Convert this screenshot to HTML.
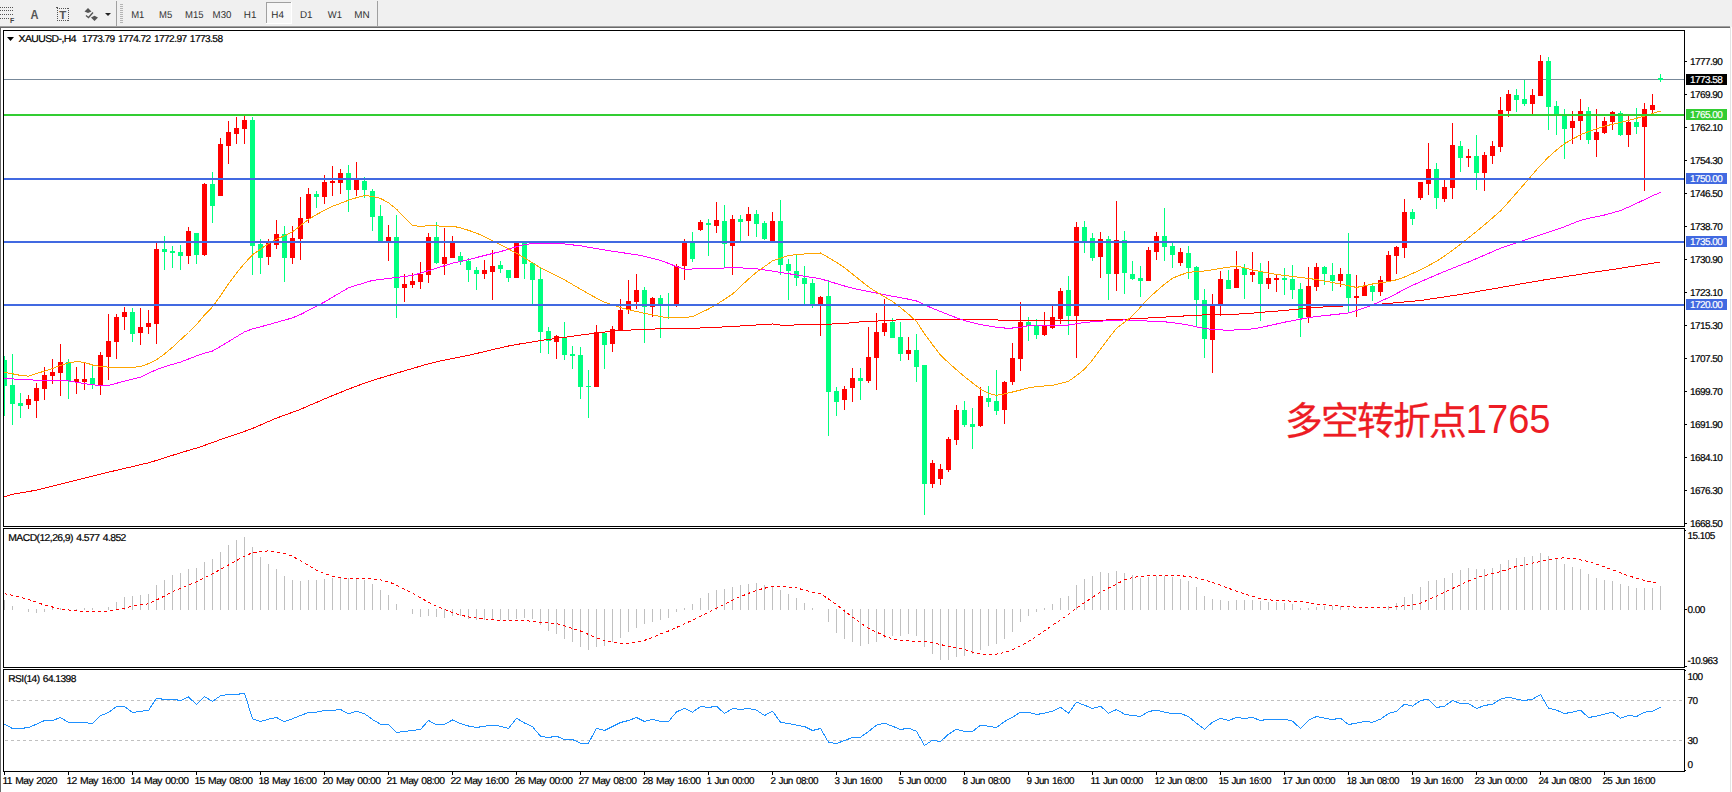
<!DOCTYPE html>
<html><head><meta charset="utf-8"><title>XAUUSD H4</title>
<style>
html,body{margin:0;padding:0;background:#fff;}
body{width:1732px;height:792px;overflow:hidden;position:relative;}
svg{position:absolute;left:0;top:0;display:block;}
text{font-family:"Liberation Sans",sans-serif;}
.ax{font-size:10px;fill:#000;stroke:#000;stroke-width:0.2px;letter-spacing:-0.55px;word-spacing:1px;text-rendering:geometricPrecision;}
.tb{font-size:10px;fill:#303030;text-rendering:geometricPrecision;}
.cn{font-family:"Noto Sans CJK SC","Liberation Sans",sans-serif;font-size:37.8px;letter-spacing:-1.8px;fill:#ed1c24;stroke:#ed1c24;stroke-width:0.3px;}
.cd{font-family:"Liberation Sans",sans-serif;font-size:40px;fill:#ed1c24;}
</style></head><body>
<svg width="1732" height="792" viewBox="0 0 1732 792">
<rect x="0" y="0" width="1732" height="792" fill="#ffffff"/>
<rect x="0" y="0" width="1732" height="26" fill="#f0f0f0"/>
<g shape-rendering="crispEdges">
<rect x="0" y="26" width="1730" height="1" fill="#a0a0a0"/>
<rect x="0" y="27" width="1730" height="1" fill="#696969"/>
<rect x="0" y="27" width="1" height="765" fill="#696969"/>
<rect x="1730" y="27" width="1" height="765" fill="#e3e3e3"/>
<rect x="1730" y="0" width="2" height="27" fill="#f0f0f0"/>
<rect x="116" y="1" width="1" height="25" fill="#a0a0a0"/>
<rect x="377" y="1" width="1" height="25" fill="#a0a0a0"/>
<rect x="120" y="4" width="3" height="1" fill="#b4b4b4"/>
<rect x="120" y="6" width="3" height="1" fill="#b4b4b4"/>
<rect x="120" y="8" width="3" height="1" fill="#b4b4b4"/>
<rect x="120" y="10" width="3" height="1" fill="#b4b4b4"/>
<rect x="120" y="12" width="3" height="1" fill="#b4b4b4"/>
<rect x="120" y="14" width="3" height="1" fill="#b4b4b4"/>
<rect x="120" y="16" width="3" height="1" fill="#b4b4b4"/>
<rect x="120" y="18" width="3" height="1" fill="#b4b4b4"/>
<rect x="120" y="20" width="3" height="1" fill="#b4b4b4"/>
<rect x="120" y="22" width="3" height="1" fill="#b4b4b4"/>
<rect x="0" y="7" width="1" height="1" fill="#555"/>
<rect x="2" y="7" width="1" height="1" fill="#555"/>
<rect x="4" y="7" width="1" height="1" fill="#555"/>
<rect x="6" y="7" width="1" height="1" fill="#555"/>
<rect x="8" y="7" width="1" height="1" fill="#555"/>
<rect x="10" y="7" width="1" height="1" fill="#555"/>
<rect x="12" y="7" width="1" height="1" fill="#555"/>
<rect x="0" y="10" width="1" height="1" fill="#555"/>
<rect x="2" y="10" width="1" height="1" fill="#555"/>
<rect x="4" y="10" width="1" height="1" fill="#555"/>
<rect x="6" y="10" width="1" height="1" fill="#555"/>
<rect x="8" y="10" width="1" height="1" fill="#555"/>
<rect x="10" y="10" width="1" height="1" fill="#555"/>
<rect x="12" y="10" width="1" height="1" fill="#555"/>
<rect x="0" y="14" width="1" height="1" fill="#555"/>
<rect x="2" y="14" width="1" height="1" fill="#555"/>
<rect x="4" y="14" width="1" height="1" fill="#555"/>
<rect x="6" y="14" width="1" height="1" fill="#555"/>
<rect x="8" y="14" width="1" height="1" fill="#555"/>
<rect x="10" y="14" width="1" height="1" fill="#555"/>
<rect x="12" y="14" width="1" height="1" fill="#555"/>
<rect x="0" y="18" width="1" height="1" fill="#555"/>
<rect x="2" y="18" width="1" height="1" fill="#555"/>
<rect x="4" y="18" width="1" height="1" fill="#555"/>
<rect x="6" y="18" width="1" height="1" fill="#555"/>
<rect x="8" y="18" width="1" height="1" fill="#555"/>
<rect x="57" y="8" width="1" height="1" fill="#555"/>
<rect x="57" y="20" width="1" height="1" fill="#555"/>
<rect x="59" y="8" width="1" height="1" fill="#555"/>
<rect x="59" y="20" width="1" height="1" fill="#555"/>
<rect x="61" y="8" width="1" height="1" fill="#555"/>
<rect x="61" y="20" width="1" height="1" fill="#555"/>
<rect x="63" y="8" width="1" height="1" fill="#555"/>
<rect x="63" y="20" width="1" height="1" fill="#555"/>
<rect x="65" y="8" width="1" height="1" fill="#555"/>
<rect x="65" y="20" width="1" height="1" fill="#555"/>
<rect x="67" y="8" width="1" height="1" fill="#555"/>
<rect x="67" y="20" width="1" height="1" fill="#555"/>
<rect x="57" y="8" width="1" height="1" fill="#555"/>
<rect x="68" y="8" width="1" height="1" fill="#555"/>
<rect x="57" y="10" width="1" height="1" fill="#555"/>
<rect x="68" y="10" width="1" height="1" fill="#555"/>
<rect x="57" y="12" width="1" height="1" fill="#555"/>
<rect x="68" y="12" width="1" height="1" fill="#555"/>
<rect x="57" y="14" width="1" height="1" fill="#555"/>
<rect x="68" y="14" width="1" height="1" fill="#555"/>
<rect x="57" y="16" width="1" height="1" fill="#555"/>
<rect x="68" y="16" width="1" height="1" fill="#555"/>
<rect x="57" y="18" width="1" height="1" fill="#555"/>
<rect x="68" y="18" width="1" height="1" fill="#555"/>
<rect x="57" y="20" width="1" height="1" fill="#555"/>
<rect x="68" y="20" width="1" height="1" fill="#555"/>
<rect x="56" y="7" width="2" height="1" fill="#555"/>
<rect x="266" y="2" width="26" height="22" fill="#f7f7f7"/>
<rect x="266" y="2" width="26" height="1" fill="#a0a0a0"/>
<rect x="266" y="2" width="1" height="22" fill="#a0a0a0"/>
<rect x="291" y="2" width="1" height="22" fill="#ffffff"/>
<rect x="266" y="23" width="26" height="1" fill="#ffffff"/>
</g>
<text x="10" y="23" style="font-size:7px;font-weight:bold;fill:#444">F</text>
<text x="30.6" y="19" textLength="8" lengthAdjust="spacingAndGlyphs" style="font-size:12px;font-weight:bold;fill:#555">A</text>
<text x="59.3" y="19" style="font-size:11.5px;font-weight:bold;fill:#555">T</text>
<path d="M88 8 L91.5 11.5 L84.5 11.5 Z M84.5 11.5 h7 l-3.5 1.5 Z" fill="#555"/>
<path d="M94.5 21 L98 17.5 L91 17.5 Z M91 17.500 l3.5 -1.8 l3.5 1.8 Z" fill="#555"/>
<path d="M86 15.500 L88.500 17.500 L93 12.500" fill="none" stroke="#555" stroke-width="1.3"/>
<path d="M105 13 h6 l-3 3 Z" fill="#222"/>
<text class="tb" x="131.2" y="18" textLength="13.2" lengthAdjust="spacingAndGlyphs">M1</text>
<text class="tb" x="159.0" y="18" textLength="13.2" lengthAdjust="spacingAndGlyphs">M5</text>
<text class="tb" x="185.0" y="18" textLength="18.5" lengthAdjust="spacingAndGlyphs">M15</text>
<text class="tb" x="212.6" y="18" textLength="18.8" lengthAdjust="spacingAndGlyphs">M30</text>
<text class="tb" x="243.8" y="18" textLength="12.6" lengthAdjust="spacingAndGlyphs">H1</text>
<text class="tb" x="271.3" y="18" textLength="12.6" lengthAdjust="spacingAndGlyphs">H4</text>
<text class="tb" x="300.0" y="18" textLength="12.6" lengthAdjust="spacingAndGlyphs">D1</text>
<text class="tb" x="327.8" y="18" textLength="14.2" lengthAdjust="spacingAndGlyphs">W1</text>
<text class="tb" x="354.3" y="18" textLength="15.4" lengthAdjust="spacingAndGlyphs">MN</text>
<g shape-rendering="crispEdges" fill="#000">
<rect x="3" y="30" width="1682" height="1"/>
<rect x="3" y="526" width="1682" height="1"/>
<rect x="3" y="30" width="1" height="497"/>
<rect x="1684" y="30" width="1" height="497"/>
<rect x="3" y="528" width="1682" height="1"/>
<rect x="3" y="667" width="1682" height="1"/>
<rect x="3" y="528" width="1" height="140"/>
<rect x="1684" y="528" width="1" height="140"/>
<rect x="3" y="669" width="1682" height="1"/>
<rect x="3" y="771" width="1682" height="1"/>
<rect x="3" y="669" width="1" height="103"/>
<rect x="1684" y="669" width="1" height="103"/>
<rect x="1685" y="61" width="2" height="1"/>
<rect x="1685" y="94" width="2" height="1"/>
<rect x="1685" y="127" width="2" height="1"/>
<rect x="1685" y="160" width="2" height="1"/>
<rect x="1685" y="193" width="2" height="1"/>
<rect x="1685" y="226" width="2" height="1"/>
<rect x="1685" y="259" width="2" height="1"/>
<rect x="1685" y="292" width="2" height="1"/>
<rect x="1685" y="325" width="2" height="1"/>
<rect x="1685" y="358" width="2" height="1"/>
<rect x="1685" y="391" width="2" height="1"/>
<rect x="1685" y="424" width="2" height="1"/>
<rect x="1685" y="457" width="2" height="1"/>
<rect x="1685" y="490" width="2" height="1"/>
<rect x="1685" y="523" width="2" height="1"/>
<rect x="1685" y="530" width="1" height="1"/>
<rect x="1685" y="609" width="2" height="1"/>
<rect x="1685" y="666" width="2" height="1"/>
<rect x="1685" y="670" width="1" height="1"/>
<rect x="1685" y="770" width="1" height="1"/>
<rect x="4" y="772" width="1" height="3"/>
<rect x="68" y="772" width="1" height="3"/>
<rect x="132" y="772" width="1" height="3"/>
<rect x="196" y="772" width="1" height="3"/>
<rect x="260" y="772" width="1" height="3"/>
<rect x="324" y="772" width="1" height="3"/>
<rect x="388" y="772" width="1" height="3"/>
<rect x="452" y="772" width="1" height="3"/>
<rect x="516" y="772" width="1" height="3"/>
<rect x="580" y="772" width="1" height="3"/>
<rect x="644" y="772" width="1" height="3"/>
<rect x="708" y="772" width="1" height="3"/>
<rect x="772" y="772" width="1" height="3"/>
<rect x="836" y="772" width="1" height="3"/>
<rect x="900" y="772" width="1" height="3"/>
<rect x="964" y="772" width="1" height="3"/>
<rect x="1028" y="772" width="1" height="3"/>
<rect x="1092" y="772" width="1" height="3"/>
<rect x="1156" y="772" width="1" height="3"/>
<rect x="1220" y="772" width="1" height="3"/>
<rect x="1284" y="772" width="1" height="3"/>
<rect x="1348" y="772" width="1" height="3"/>
<rect x="1412" y="772" width="1" height="3"/>
<rect x="1476" y="772" width="1" height="3"/>
<rect x="1540" y="772" width="1" height="3"/>
<rect x="1604" y="772" width="1" height="3"/>
</g>
<g shape-rendering="crispEdges">
<rect x="4" y="79" width="1680" height="1" fill="#778899"/>
<rect x="4" y="356" width="1" height="60" fill="#00ff7f"/>
<rect x="4" y="360" width="3" height="26" fill="#00ff7f"/>
<rect x="12" y="354" width="1" height="71" fill="#00ff7f"/>
<rect x="10" y="385" width="5" height="19" fill="#00ff7f"/>
<rect x="20" y="393" width="1" height="25" fill="#00ff7f"/>
<rect x="18" y="403" width="5" height="3" fill="#00ff7f"/>
<rect x="28" y="395" width="1" height="14" fill="#ff0000"/>
<rect x="26" y="399" width="5" height="6" fill="#ff0000"/>
<rect x="36" y="383" width="1" height="35" fill="#ff0000"/>
<rect x="34" y="388" width="5" height="13" fill="#ff0000"/>
<rect x="44" y="367" width="1" height="33" fill="#ff0000"/>
<rect x="42" y="375" width="5" height="14" fill="#ff0000"/>
<rect x="52" y="359" width="1" height="25" fill="#ff0000"/>
<rect x="50" y="372" width="5" height="4" fill="#ff0000"/>
<rect x="60" y="344" width="1" height="52" fill="#ff0000"/>
<rect x="58" y="362" width="5" height="11" fill="#ff0000"/>
<rect x="68" y="359" width="1" height="40" fill="#00ff7f"/>
<rect x="66" y="362" width="5" height="19" fill="#00ff7f"/>
<rect x="76" y="367" width="1" height="27" fill="#ff0000"/>
<rect x="74" y="379" width="5" height="3" fill="#ff0000"/>
<rect x="84" y="363" width="1" height="27" fill="#ff0000"/>
<rect x="82" y="379" width="5" height="3" fill="#ff0000"/>
<rect x="92" y="366" width="1" height="23" fill="#00ff7f"/>
<rect x="90" y="378" width="5" height="6" fill="#00ff7f"/>
<rect x="100" y="352" width="1" height="43" fill="#ff0000"/>
<rect x="98" y="355" width="5" height="31" fill="#ff0000"/>
<rect x="108" y="314" width="1" height="66" fill="#ff0000"/>
<rect x="106" y="341" width="5" height="16" fill="#ff0000"/>
<rect x="116" y="314" width="1" height="45" fill="#ff0000"/>
<rect x="114" y="317" width="5" height="25" fill="#ff0000"/>
<rect x="124" y="307" width="1" height="23" fill="#ff0000"/>
<rect x="122" y="312" width="5" height="5" fill="#ff0000"/>
<rect x="132" y="308" width="1" height="34" fill="#00ff7f"/>
<rect x="130" y="312" width="5" height="22" fill="#00ff7f"/>
<rect x="140" y="308" width="1" height="37" fill="#ff0000"/>
<rect x="138" y="327" width="5" height="6" fill="#ff0000"/>
<rect x="148" y="310" width="1" height="24" fill="#ff0000"/>
<rect x="146" y="323" width="5" height="4" fill="#ff0000"/>
<rect x="156" y="242" width="1" height="102" fill="#ff0000"/>
<rect x="154" y="249" width="5" height="75" fill="#ff0000"/>
<rect x="164" y="236" width="1" height="34" fill="#00ff7f"/>
<rect x="162" y="249" width="5" height="3" fill="#00ff7f"/>
<rect x="172" y="246" width="1" height="22" fill="#00ff7f"/>
<rect x="170" y="251" width="5" height="2" fill="#00ff7f"/>
<rect x="180" y="245" width="1" height="25" fill="#00ff7f"/>
<rect x="178" y="252" width="5" height="4" fill="#00ff7f"/>
<rect x="188" y="227" width="1" height="37" fill="#ff0000"/>
<rect x="186" y="231" width="5" height="25" fill="#ff0000"/>
<rect x="196" y="233" width="1" height="31" fill="#00ff7f"/>
<rect x="194" y="233" width="5" height="22" fill="#00ff7f"/>
<rect x="204" y="183" width="1" height="73" fill="#ff0000"/>
<rect x="202" y="184" width="5" height="71" fill="#ff0000"/>
<rect x="212" y="172" width="1" height="51" fill="#00ff7f"/>
<rect x="210" y="184" width="5" height="22" fill="#00ff7f"/>
<rect x="220" y="138" width="1" height="58" fill="#ff0000"/>
<rect x="218" y="144" width="5" height="52" fill="#ff0000"/>
<rect x="228" y="121" width="1" height="43" fill="#ff0000"/>
<rect x="226" y="132" width="5" height="14" fill="#ff0000"/>
<rect x="236" y="117" width="1" height="27" fill="#ff0000"/>
<rect x="234" y="128" width="5" height="6" fill="#ff0000"/>
<rect x="244" y="116" width="1" height="28" fill="#ff0000"/>
<rect x="242" y="120" width="5" height="9" fill="#ff0000"/>
<rect x="252" y="117" width="1" height="158" fill="#00ff7f"/>
<rect x="250" y="120" width="5" height="126" fill="#00ff7f"/>
<rect x="260" y="239" width="1" height="35" fill="#00ff7f"/>
<rect x="258" y="244" width="5" height="14" fill="#00ff7f"/>
<rect x="268" y="239" width="1" height="26" fill="#ff0000"/>
<rect x="266" y="242" width="5" height="15" fill="#ff0000"/>
<rect x="276" y="220" width="1" height="29" fill="#ff0000"/>
<rect x="274" y="234" width="5" height="11" fill="#ff0000"/>
<rect x="284" y="226" width="1" height="56" fill="#00ff7f"/>
<rect x="282" y="234" width="5" height="24" fill="#00ff7f"/>
<rect x="292" y="226" width="1" height="38" fill="#ff0000"/>
<rect x="290" y="238" width="5" height="20" fill="#ff0000"/>
<rect x="300" y="197" width="1" height="63" fill="#ff0000"/>
<rect x="298" y="218" width="5" height="21" fill="#ff0000"/>
<rect x="308" y="188" width="1" height="35" fill="#ff0000"/>
<rect x="306" y="194" width="5" height="25" fill="#ff0000"/>
<rect x="316" y="191" width="1" height="17" fill="#00ff7f"/>
<rect x="314" y="194" width="5" height="3" fill="#00ff7f"/>
<rect x="324" y="175" width="1" height="29" fill="#ff0000"/>
<rect x="322" y="182" width="5" height="15" fill="#ff0000"/>
<rect x="332" y="166" width="1" height="30" fill="#ff0000"/>
<rect x="330" y="181" width="5" height="2" fill="#ff0000"/>
<rect x="340" y="169" width="1" height="25" fill="#ff0000"/>
<rect x="338" y="173" width="5" height="10" fill="#ff0000"/>
<rect x="348" y="165" width="1" height="47" fill="#00ff7f"/>
<rect x="346" y="173" width="5" height="17" fill="#00ff7f"/>
<rect x="356" y="162" width="1" height="34" fill="#ff0000"/>
<rect x="354" y="180" width="5" height="10" fill="#ff0000"/>
<rect x="364" y="177" width="1" height="21" fill="#00ff7f"/>
<rect x="362" y="181" width="5" height="9" fill="#00ff7f"/>
<rect x="372" y="189" width="1" height="42" fill="#00ff7f"/>
<rect x="370" y="191" width="5" height="26" fill="#00ff7f"/>
<rect x="380" y="205" width="1" height="36" fill="#00ff7f"/>
<rect x="378" y="216" width="5" height="25" fill="#00ff7f"/>
<rect x="388" y="225" width="1" height="36" fill="#ff0000"/>
<rect x="386" y="237" width="5" height="4" fill="#ff0000"/>
<rect x="396" y="215" width="1" height="103" fill="#00ff7f"/>
<rect x="394" y="237" width="5" height="51" fill="#00ff7f"/>
<rect x="404" y="274" width="1" height="28" fill="#ff0000"/>
<rect x="402" y="284" width="5" height="4" fill="#ff0000"/>
<rect x="412" y="273" width="1" height="15" fill="#ff0000"/>
<rect x="410" y="281" width="5" height="4" fill="#ff0000"/>
<rect x="420" y="262" width="1" height="27" fill="#ff0000"/>
<rect x="418" y="274" width="5" height="8" fill="#ff0000"/>
<rect x="428" y="233" width="1" height="50" fill="#ff0000"/>
<rect x="426" y="237" width="5" height="38" fill="#ff0000"/>
<rect x="436" y="222" width="1" height="42" fill="#00ff7f"/>
<rect x="434" y="237" width="5" height="26" fill="#00ff7f"/>
<rect x="444" y="228" width="1" height="47" fill="#ff0000"/>
<rect x="442" y="257" width="5" height="7" fill="#ff0000"/>
<rect x="452" y="236" width="1" height="22" fill="#ff0000"/>
<rect x="450" y="242" width="5" height="16" fill="#ff0000"/>
<rect x="460" y="252" width="1" height="13" fill="#00ff7f"/>
<rect x="458" y="256" width="5" height="6" fill="#00ff7f"/>
<rect x="468" y="258" width="1" height="24" fill="#00ff7f"/>
<rect x="466" y="261" width="5" height="9" fill="#00ff7f"/>
<rect x="476" y="267" width="1" height="23" fill="#00ff7f"/>
<rect x="474" y="270" width="5" height="4" fill="#00ff7f"/>
<rect x="484" y="260" width="1" height="19" fill="#ff0000"/>
<rect x="482" y="270" width="5" height="4" fill="#ff0000"/>
<rect x="492" y="250" width="1" height="50" fill="#ff0000"/>
<rect x="490" y="266" width="5" height="6" fill="#ff0000"/>
<rect x="500" y="261" width="1" height="12" fill="#00ff7f"/>
<rect x="498" y="265" width="5" height="4" fill="#00ff7f"/>
<rect x="508" y="270" width="1" height="12" fill="#00ff7f"/>
<rect x="506" y="270" width="5" height="8" fill="#00ff7f"/>
<rect x="516" y="243" width="1" height="35" fill="#ff0000"/>
<rect x="514" y="243" width="5" height="35" fill="#ff0000"/>
<rect x="524" y="243" width="1" height="36" fill="#00ff7f"/>
<rect x="522" y="243" width="5" height="21" fill="#00ff7f"/>
<rect x="532" y="263" width="1" height="41" fill="#00ff7f"/>
<rect x="530" y="263" width="5" height="17" fill="#00ff7f"/>
<rect x="540" y="268" width="1" height="85" fill="#00ff7f"/>
<rect x="538" y="279" width="5" height="53" fill="#00ff7f"/>
<rect x="548" y="327" width="1" height="27" fill="#00ff7f"/>
<rect x="546" y="331" width="5" height="10" fill="#00ff7f"/>
<rect x="556" y="335" width="1" height="24" fill="#ff0000"/>
<rect x="554" y="336" width="5" height="6" fill="#ff0000"/>
<rect x="564" y="322" width="1" height="38" fill="#00ff7f"/>
<rect x="562" y="337" width="5" height="18" fill="#00ff7f"/>
<rect x="572" y="346" width="1" height="23" fill="#00ff7f"/>
<rect x="570" y="354" width="5" height="2" fill="#00ff7f"/>
<rect x="580" y="347" width="1" height="52" fill="#00ff7f"/>
<rect x="578" y="355" width="5" height="32" fill="#00ff7f"/>
<rect x="588" y="370" width="1" height="48" fill="#00ff7f"/>
<rect x="586" y="386" width="5" height="1" fill="#00ff7f"/>
<rect x="596" y="325" width="1" height="62" fill="#ff0000"/>
<rect x="594" y="332" width="5" height="55" fill="#ff0000"/>
<rect x="604" y="332" width="1" height="37" fill="#00ff7f"/>
<rect x="602" y="333" width="5" height="12" fill="#00ff7f"/>
<rect x="612" y="326" width="1" height="26" fill="#ff0000"/>
<rect x="610" y="329" width="5" height="15" fill="#ff0000"/>
<rect x="620" y="299" width="1" height="31" fill="#ff0000"/>
<rect x="618" y="310" width="5" height="20" fill="#ff0000"/>
<rect x="628" y="280" width="1" height="34" fill="#ff0000"/>
<rect x="626" y="301" width="5" height="9" fill="#ff0000"/>
<rect x="636" y="274" width="1" height="35" fill="#ff0000"/>
<rect x="634" y="290" width="5" height="12" fill="#ff0000"/>
<rect x="644" y="287" width="1" height="56" fill="#00ff7f"/>
<rect x="642" y="290" width="5" height="17" fill="#00ff7f"/>
<rect x="652" y="297" width="1" height="20" fill="#ff0000"/>
<rect x="650" y="298" width="5" height="9" fill="#ff0000"/>
<rect x="660" y="295" width="1" height="43" fill="#00ff7f"/>
<rect x="658" y="298" width="5" height="6" fill="#00ff7f"/>
<rect x="668" y="293" width="1" height="26" fill="#00ff7f"/>
<rect x="666" y="304" width="5" height="1" fill="#00ff7f"/>
<rect x="676" y="264" width="1" height="43" fill="#ff0000"/>
<rect x="674" y="266" width="5" height="38" fill="#ff0000"/>
<rect x="684" y="239" width="1" height="41" fill="#ff0000"/>
<rect x="682" y="243" width="5" height="23" fill="#ff0000"/>
<rect x="692" y="232" width="1" height="30" fill="#00ff7f"/>
<rect x="690" y="243" width="5" height="16" fill="#00ff7f"/>
<rect x="700" y="220" width="1" height="11" fill="#ff0000"/>
<rect x="698" y="222" width="5" height="8" fill="#ff0000"/>
<rect x="708" y="219" width="1" height="37" fill="#00ff7f"/>
<rect x="706" y="223" width="5" height="2" fill="#00ff7f"/>
<rect x="716" y="202" width="1" height="31" fill="#ff0000"/>
<rect x="714" y="220" width="5" height="6" fill="#ff0000"/>
<rect x="724" y="205" width="1" height="62" fill="#00ff7f"/>
<rect x="722" y="221" width="5" height="23" fill="#00ff7f"/>
<rect x="732" y="215" width="1" height="60" fill="#ff0000"/>
<rect x="730" y="219" width="5" height="27" fill="#ff0000"/>
<rect x="740" y="215" width="1" height="27" fill="#00ff7f"/>
<rect x="738" y="219" width="5" height="3" fill="#00ff7f"/>
<rect x="748" y="207" width="1" height="29" fill="#ff0000"/>
<rect x="746" y="214" width="5" height="7" fill="#ff0000"/>
<rect x="756" y="210" width="1" height="27" fill="#00ff7f"/>
<rect x="754" y="214" width="5" height="10" fill="#00ff7f"/>
<rect x="764" y="221" width="1" height="19" fill="#00ff7f"/>
<rect x="762" y="223" width="5" height="16" fill="#00ff7f"/>
<rect x="772" y="212" width="1" height="30" fill="#ff0000"/>
<rect x="770" y="221" width="5" height="21" fill="#ff0000"/>
<rect x="780" y="200" width="1" height="75" fill="#00ff7f"/>
<rect x="778" y="221" width="5" height="44" fill="#00ff7f"/>
<rect x="788" y="259" width="1" height="41" fill="#00ff7f"/>
<rect x="786" y="264" width="5" height="7" fill="#00ff7f"/>
<rect x="796" y="255" width="1" height="31" fill="#00ff7f"/>
<rect x="794" y="271" width="5" height="7" fill="#00ff7f"/>
<rect x="804" y="266" width="1" height="38" fill="#00ff7f"/>
<rect x="802" y="278" width="5" height="6" fill="#00ff7f"/>
<rect x="812" y="279" width="1" height="29" fill="#00ff7f"/>
<rect x="810" y="283" width="5" height="21" fill="#00ff7f"/>
<rect x="820" y="296" width="1" height="40" fill="#ff0000"/>
<rect x="818" y="297" width="5" height="7" fill="#ff0000"/>
<rect x="828" y="280" width="1" height="156" fill="#00ff7f"/>
<rect x="826" y="296" width="5" height="96" fill="#00ff7f"/>
<rect x="836" y="387" width="1" height="29" fill="#00ff7f"/>
<rect x="834" y="391" width="5" height="11" fill="#00ff7f"/>
<rect x="844" y="386" width="1" height="24" fill="#ff0000"/>
<rect x="842" y="389" width="5" height="11" fill="#ff0000"/>
<rect x="852" y="368" width="1" height="34" fill="#ff0000"/>
<rect x="850" y="378" width="5" height="10" fill="#ff0000"/>
<rect x="860" y="368" width="1" height="32" fill="#00ff7f"/>
<rect x="858" y="378" width="5" height="3" fill="#00ff7f"/>
<rect x="868" y="327" width="1" height="56" fill="#ff0000"/>
<rect x="866" y="357" width="5" height="24" fill="#ff0000"/>
<rect x="876" y="313" width="1" height="77" fill="#ff0000"/>
<rect x="874" y="332" width="5" height="26" fill="#ff0000"/>
<rect x="884" y="299" width="1" height="37" fill="#ff0000"/>
<rect x="882" y="323" width="5" height="9" fill="#ff0000"/>
<rect x="892" y="318" width="1" height="20" fill="#00ff7f"/>
<rect x="890" y="322" width="5" height="16" fill="#00ff7f"/>
<rect x="900" y="322" width="1" height="39" fill="#00ff7f"/>
<rect x="898" y="337" width="5" height="17" fill="#00ff7f"/>
<rect x="908" y="337" width="1" height="23" fill="#ff0000"/>
<rect x="906" y="350" width="5" height="4" fill="#ff0000"/>
<rect x="916" y="334" width="1" height="48" fill="#00ff7f"/>
<rect x="914" y="350" width="5" height="17" fill="#00ff7f"/>
<rect x="924" y="365" width="1" height="150" fill="#00ff7f"/>
<rect x="922" y="365" width="5" height="119" fill="#00ff7f"/>
<rect x="932" y="460" width="1" height="28" fill="#ff0000"/>
<rect x="930" y="463" width="5" height="21" fill="#ff0000"/>
<rect x="940" y="464" width="1" height="21" fill="#ff0000"/>
<rect x="938" y="469" width="5" height="10" fill="#ff0000"/>
<rect x="948" y="437" width="1" height="35" fill="#ff0000"/>
<rect x="946" y="439" width="5" height="31" fill="#ff0000"/>
<rect x="956" y="405" width="1" height="40" fill="#ff0000"/>
<rect x="954" y="410" width="5" height="30" fill="#ff0000"/>
<rect x="964" y="401" width="1" height="26" fill="#00ff7f"/>
<rect x="962" y="410" width="5" height="15" fill="#00ff7f"/>
<rect x="972" y="408" width="1" height="41" fill="#00ff7f"/>
<rect x="970" y="424" width="5" height="3" fill="#00ff7f"/>
<rect x="980" y="387" width="1" height="40" fill="#ff0000"/>
<rect x="978" y="396" width="5" height="30" fill="#ff0000"/>
<rect x="988" y="386" width="1" height="21" fill="#00ff7f"/>
<rect x="986" y="398" width="5" height="4" fill="#00ff7f"/>
<rect x="996" y="370" width="1" height="45" fill="#00ff7f"/>
<rect x="994" y="401" width="5" height="10" fill="#00ff7f"/>
<rect x="1004" y="381" width="1" height="43" fill="#ff0000"/>
<rect x="1002" y="382" width="5" height="28" fill="#ff0000"/>
<rect x="1012" y="343" width="1" height="42" fill="#ff0000"/>
<rect x="1010" y="358" width="5" height="24" fill="#ff0000"/>
<rect x="1020" y="302" width="1" height="69" fill="#ff0000"/>
<rect x="1018" y="322" width="5" height="37" fill="#ff0000"/>
<rect x="1028" y="317" width="1" height="24" fill="#00ff7f"/>
<rect x="1026" y="322" width="5" height="4" fill="#00ff7f"/>
<rect x="1036" y="319" width="1" height="20" fill="#00ff7f"/>
<rect x="1034" y="326" width="5" height="9" fill="#00ff7f"/>
<rect x="1044" y="312" width="1" height="24" fill="#ff0000"/>
<rect x="1042" y="325" width="5" height="10" fill="#ff0000"/>
<rect x="1052" y="306" width="1" height="23" fill="#ff0000"/>
<rect x="1050" y="317" width="5" height="11" fill="#ff0000"/>
<rect x="1060" y="288" width="1" height="36" fill="#ff0000"/>
<rect x="1058" y="291" width="5" height="28" fill="#ff0000"/>
<rect x="1068" y="276" width="1" height="59" fill="#00ff7f"/>
<rect x="1066" y="290" width="5" height="26" fill="#00ff7f"/>
<rect x="1076" y="222" width="1" height="136" fill="#ff0000"/>
<rect x="1074" y="227" width="5" height="89" fill="#ff0000"/>
<rect x="1084" y="221" width="1" height="32" fill="#00ff7f"/>
<rect x="1082" y="227" width="5" height="14" fill="#00ff7f"/>
<rect x="1092" y="233" width="1" height="28" fill="#00ff7f"/>
<rect x="1090" y="238" width="5" height="20" fill="#00ff7f"/>
<rect x="1100" y="232" width="1" height="46" fill="#ff0000"/>
<rect x="1098" y="239" width="5" height="18" fill="#ff0000"/>
<rect x="1108" y="236" width="1" height="64" fill="#00ff7f"/>
<rect x="1106" y="239" width="5" height="35" fill="#00ff7f"/>
<rect x="1116" y="201" width="1" height="90" fill="#ff0000"/>
<rect x="1114" y="240" width="5" height="34" fill="#ff0000"/>
<rect x="1124" y="231" width="1" height="63" fill="#00ff7f"/>
<rect x="1122" y="240" width="5" height="33" fill="#00ff7f"/>
<rect x="1132" y="261" width="1" height="19" fill="#00ff7f"/>
<rect x="1130" y="274" width="5" height="5" fill="#00ff7f"/>
<rect x="1140" y="266" width="1" height="31" fill="#00ff7f"/>
<rect x="1138" y="278" width="5" height="3" fill="#00ff7f"/>
<rect x="1148" y="247" width="1" height="34" fill="#ff0000"/>
<rect x="1146" y="250" width="5" height="31" fill="#ff0000"/>
<rect x="1156" y="232" width="1" height="28" fill="#ff0000"/>
<rect x="1154" y="236" width="5" height="16" fill="#ff0000"/>
<rect x="1164" y="208" width="1" height="53" fill="#00ff7f"/>
<rect x="1162" y="236" width="5" height="11" fill="#00ff7f"/>
<rect x="1172" y="243" width="1" height="25" fill="#00ff7f"/>
<rect x="1170" y="246" width="5" height="9" fill="#00ff7f"/>
<rect x="1180" y="248" width="1" height="18" fill="#ff0000"/>
<rect x="1178" y="252" width="5" height="11" fill="#ff0000"/>
<rect x="1188" y="246" width="1" height="33" fill="#00ff7f"/>
<rect x="1186" y="253" width="5" height="15" fill="#00ff7f"/>
<rect x="1196" y="266" width="1" height="60" fill="#00ff7f"/>
<rect x="1194" y="267" width="5" height="33" fill="#00ff7f"/>
<rect x="1204" y="289" width="1" height="69" fill="#00ff7f"/>
<rect x="1202" y="300" width="5" height="39" fill="#00ff7f"/>
<rect x="1212" y="294" width="1" height="79" fill="#ff0000"/>
<rect x="1210" y="305" width="5" height="35" fill="#ff0000"/>
<rect x="1220" y="271" width="1" height="45" fill="#ff0000"/>
<rect x="1218" y="279" width="5" height="25" fill="#ff0000"/>
<rect x="1228" y="270" width="1" height="19" fill="#00ff7f"/>
<rect x="1226" y="280" width="5" height="9" fill="#00ff7f"/>
<rect x="1236" y="251" width="1" height="37" fill="#ff0000"/>
<rect x="1234" y="269" width="5" height="19" fill="#ff0000"/>
<rect x="1244" y="264" width="1" height="35" fill="#00ff7f"/>
<rect x="1242" y="268" width="5" height="7" fill="#00ff7f"/>
<rect x="1252" y="252" width="1" height="30" fill="#ff0000"/>
<rect x="1250" y="272" width="5" height="3" fill="#ff0000"/>
<rect x="1260" y="263" width="1" height="58" fill="#00ff7f"/>
<rect x="1258" y="271" width="5" height="13" fill="#00ff7f"/>
<rect x="1268" y="261" width="1" height="28" fill="#ff0000"/>
<rect x="1266" y="278" width="5" height="6" fill="#ff0000"/>
<rect x="1276" y="274" width="1" height="18" fill="#ff0000"/>
<rect x="1274" y="278" width="5" height="2" fill="#ff0000"/>
<rect x="1284" y="268" width="1" height="27" fill="#00ff7f"/>
<rect x="1282" y="278" width="5" height="2" fill="#00ff7f"/>
<rect x="1292" y="265" width="1" height="34" fill="#00ff7f"/>
<rect x="1290" y="279" width="5" height="11" fill="#00ff7f"/>
<rect x="1300" y="283" width="1" height="54" fill="#00ff7f"/>
<rect x="1298" y="289" width="5" height="29" fill="#00ff7f"/>
<rect x="1308" y="267" width="1" height="56" fill="#ff0000"/>
<rect x="1306" y="286" width="5" height="31" fill="#ff0000"/>
<rect x="1316" y="263" width="1" height="28" fill="#ff0000"/>
<rect x="1314" y="267" width="5" height="20" fill="#ff0000"/>
<rect x="1324" y="266" width="1" height="19" fill="#00ff7f"/>
<rect x="1322" y="267" width="5" height="7" fill="#00ff7f"/>
<rect x="1332" y="263" width="1" height="28" fill="#00ff7f"/>
<rect x="1330" y="275" width="5" height="6" fill="#00ff7f"/>
<rect x="1340" y="268" width="1" height="19" fill="#ff0000"/>
<rect x="1338" y="274" width="5" height="7" fill="#ff0000"/>
<rect x="1348" y="233" width="1" height="80" fill="#00ff7f"/>
<rect x="1346" y="274" width="5" height="24" fill="#00ff7f"/>
<rect x="1356" y="275" width="1" height="42" fill="#ff0000"/>
<rect x="1354" y="296" width="5" height="2" fill="#ff0000"/>
<rect x="1364" y="282" width="1" height="14" fill="#ff0000"/>
<rect x="1362" y="286" width="5" height="10" fill="#ff0000"/>
<rect x="1372" y="283" width="1" height="18" fill="#00ff7f"/>
<rect x="1370" y="286" width="5" height="6" fill="#00ff7f"/>
<rect x="1380" y="276" width="1" height="20" fill="#ff0000"/>
<rect x="1378" y="280" width="5" height="12" fill="#ff0000"/>
<rect x="1388" y="251" width="1" height="31" fill="#ff0000"/>
<rect x="1386" y="255" width="5" height="26" fill="#ff0000"/>
<rect x="1396" y="246" width="1" height="28" fill="#ff0000"/>
<rect x="1394" y="247" width="5" height="9" fill="#ff0000"/>
<rect x="1404" y="199" width="1" height="59" fill="#ff0000"/>
<rect x="1402" y="212" width="5" height="36" fill="#ff0000"/>
<rect x="1412" y="209" width="1" height="16" fill="#00ff7f"/>
<rect x="1410" y="212" width="5" height="7" fill="#00ff7f"/>
<rect x="1420" y="182" width="1" height="18" fill="#ff0000"/>
<rect x="1418" y="182" width="5" height="16" fill="#ff0000"/>
<rect x="1428" y="143" width="1" height="52" fill="#ff0000"/>
<rect x="1426" y="169" width="5" height="15" fill="#ff0000"/>
<rect x="1436" y="163" width="1" height="46" fill="#00ff7f"/>
<rect x="1434" y="169" width="5" height="29" fill="#00ff7f"/>
<rect x="1444" y="180" width="1" height="22" fill="#ff0000"/>
<rect x="1442" y="187" width="5" height="12" fill="#ff0000"/>
<rect x="1452" y="123" width="1" height="76" fill="#ff0000"/>
<rect x="1450" y="145" width="5" height="43" fill="#ff0000"/>
<rect x="1460" y="141" width="1" height="31" fill="#00ff7f"/>
<rect x="1458" y="146" width="5" height="12" fill="#00ff7f"/>
<rect x="1468" y="149" width="1" height="18" fill="#ff0000"/>
<rect x="1466" y="156" width="5" height="2" fill="#ff0000"/>
<rect x="1476" y="135" width="1" height="55" fill="#00ff7f"/>
<rect x="1474" y="156" width="5" height="17" fill="#00ff7f"/>
<rect x="1484" y="152" width="1" height="39" fill="#ff0000"/>
<rect x="1482" y="155" width="5" height="18" fill="#ff0000"/>
<rect x="1492" y="141" width="1" height="23" fill="#ff0000"/>
<rect x="1490" y="146" width="5" height="10" fill="#ff0000"/>
<rect x="1500" y="97" width="1" height="55" fill="#ff0000"/>
<rect x="1498" y="110" width="5" height="37" fill="#ff0000"/>
<rect x="1508" y="90" width="1" height="27" fill="#ff0000"/>
<rect x="1506" y="94" width="5" height="17" fill="#ff0000"/>
<rect x="1516" y="89" width="1" height="23" fill="#00ff7f"/>
<rect x="1514" y="95" width="5" height="5" fill="#00ff7f"/>
<rect x="1524" y="80" width="1" height="26" fill="#00ff7f"/>
<rect x="1522" y="99" width="5" height="5" fill="#00ff7f"/>
<rect x="1532" y="89" width="1" height="25" fill="#ff0000"/>
<rect x="1530" y="95" width="5" height="9" fill="#ff0000"/>
<rect x="1540" y="55" width="1" height="41" fill="#ff0000"/>
<rect x="1538" y="61" width="5" height="35" fill="#ff0000"/>
<rect x="1548" y="57" width="1" height="73" fill="#00ff7f"/>
<rect x="1546" y="61" width="5" height="46" fill="#00ff7f"/>
<rect x="1556" y="101" width="1" height="34" fill="#00ff7f"/>
<rect x="1554" y="106" width="5" height="10" fill="#00ff7f"/>
<rect x="1564" y="109" width="1" height="50" fill="#00ff7f"/>
<rect x="1562" y="115" width="5" height="14" fill="#00ff7f"/>
<rect x="1572" y="111" width="1" height="33" fill="#ff0000"/>
<rect x="1570" y="121" width="5" height="7" fill="#ff0000"/>
<rect x="1580" y="99" width="1" height="41" fill="#ff0000"/>
<rect x="1578" y="111" width="5" height="10" fill="#ff0000"/>
<rect x="1588" y="107" width="1" height="37" fill="#00ff7f"/>
<rect x="1586" y="111" width="5" height="29" fill="#00ff7f"/>
<rect x="1596" y="109" width="1" height="48" fill="#ff0000"/>
<rect x="1594" y="132" width="5" height="8" fill="#ff0000"/>
<rect x="1604" y="117" width="1" height="17" fill="#ff0000"/>
<rect x="1602" y="121" width="5" height="12" fill="#ff0000"/>
<rect x="1612" y="111" width="1" height="19" fill="#ff0000"/>
<rect x="1610" y="112" width="5" height="10" fill="#ff0000"/>
<rect x="1620" y="111" width="1" height="25" fill="#00ff7f"/>
<rect x="1618" y="113" width="5" height="22" fill="#00ff7f"/>
<rect x="1628" y="116" width="1" height="31" fill="#ff0000"/>
<rect x="1626" y="122" width="5" height="13" fill="#ff0000"/>
<rect x="1636" y="108" width="1" height="26" fill="#00ff7f"/>
<rect x="1634" y="122" width="5" height="5" fill="#00ff7f"/>
<rect x="1644" y="103" width="1" height="88" fill="#ff0000"/>
<rect x="1642" y="109" width="5" height="18" fill="#ff0000"/>
<rect x="1652" y="94" width="1" height="20" fill="#ff0000"/>
<rect x="1650" y="105" width="5" height="5" fill="#ff0000"/>
<rect x="1660" y="74" width="1" height="8" fill="#00ff7f"/>
<rect x="1658" y="78" width="5" height="2" fill="#00ff7f"/>
</g>
<polyline points="4.5,496.7 12.5,494.2 20.5,492.9 28.5,491.5 36.5,490.2 44.5,488.2 52.5,486.2 60.5,484.2 68.5,482.1 76.5,480.1 84.5,478.1 92.5,476.2 100.5,474.2 108.5,472.2 116.5,470.3 124.5,468.4 132.5,466.6 140.5,464.7 148.5,462.8 156.5,460.4 164.5,457.9 172.5,455.3 180.5,452.9 188.5,450.4 196.5,448.1 204.5,445.4 212.5,442.5 220.5,439.6 228.5,436.8 236.5,434.1 244.5,431.4 252.5,428.4 260.5,425.0 268.5,421.5 276.5,418.1 284.5,415.2 292.5,412.3 300.5,409.3 308.5,405.8 316.5,402.4 324.5,398.9 332.5,395.6 340.5,392.4 348.5,389.1 356.5,386.1 364.5,383.2 372.5,380.4 380.5,378.0 388.5,375.6 396.5,373.2 404.5,370.8 412.5,368.5 420.5,366.1 428.5,363.8 436.5,361.8 444.5,360.1 452.5,358.5 460.5,356.9 468.5,355.3 476.5,353.5 484.5,351.6 492.5,349.7 500.5,347.8 508.5,346.0 516.5,344.5 524.5,343.2 532.5,341.9 540.5,340.5 548.5,339.5 556.5,338.4 564.5,337.3 572.5,336.2 580.5,335.1 588.5,334.1 596.5,333.0 604.5,332.1 612.5,331.3 620.5,330.5 628.5,330.1 636.5,329.8 644.5,329.4 652.5,329.1 660.5,328.8 668.5,328.6 676.5,328.4 684.5,328.3 692.5,328.2 700.5,328.0 708.5,327.7 716.5,327.3 724.5,326.9 732.5,326.4 740.5,326.0 748.5,325.5 756.5,325.0 764.5,324.4 772.5,324.0 780.5,325.1 788.5,325.6 796.5,324.8 804.5,324.7 812.5,324.5 820.5,324.3 828.5,324.1 836.5,323.9 844.5,323.4 852.5,322.7 860.5,321.9 868.5,321.5 876.5,321.1 884.5,320.7 892.5,320.2 900.5,319.8 908.5,319.8 916.5,319.8 924.5,319.8 932.5,319.8 940.5,319.8 948.5,319.8 956.5,319.8 964.5,319.8 972.5,319.8 980.5,319.8 988.5,319.8 996.5,319.8 1004.5,320.7 1012.5,320.7 1020.5,320.7 1028.5,320.7 1036.5,320.7 1044.5,320.8 1052.5,320.8 1060.5,320.8 1068.5,320.8 1076.5,320.8 1084.5,320.8 1092.5,320.5 1100.5,320.2 1108.5,319.9 1116.5,319.6 1124.5,319.2 1132.5,318.9 1140.5,318.5 1148.5,318.0 1156.5,317.6 1164.5,317.1 1172.5,316.7 1180.5,316.2 1188.5,315.7 1196.5,315.3 1204.5,314.9 1212.5,314.7 1220.5,314.5 1228.5,314.3 1236.5,314.1 1244.5,313.8 1252.5,313.1 1260.5,312.4 1268.5,311.7 1276.5,311.1 1284.5,310.4 1292.5,309.7 1300.5,308.9 1308.5,308.2 1316.5,307.5 1324.5,306.9 1332.5,306.5 1340.5,306.1 1348.5,305.8 1356.5,305.5 1364.5,305.3 1372.5,305.0 1380.5,304.2 1388.5,303.4 1396.5,302.7 1404.5,302.0 1412.5,301.2 1420.5,300.5 1428.5,299.3 1436.5,298.1 1444.5,296.9 1452.5,295.7 1460.5,294.4 1468.5,293.1 1476.5,291.7 1484.5,290.3 1492.5,288.9 1500.5,287.5 1508.5,286.1 1516.5,284.7 1524.5,283.3 1532.5,281.9 1540.5,280.5 1548.5,279.2 1556.5,278.0 1564.5,276.7 1572.5,275.5 1580.5,274.2 1588.5,273.0 1596.5,271.8 1604.5,270.7 1612.5,269.5 1620.5,268.3 1628.5,267.0 1636.5,265.7 1644.5,264.5 1652.5,263.2 1660.5,262.0" fill="none" stroke="#ff0000" stroke-width="1" shape-rendering="crispEdges" />
<polyline points="4.5,378.4 12.5,378.9 20.5,379.4 28.5,379.8 36.5,380.2 44.5,380.5 52.5,380.7 60.5,380.8 68.5,381.0 76.5,382.3 84.5,383.6 92.5,384.8 100.5,385.5 108.5,385.5 116.5,383.3 124.5,381.1 132.5,379.2 140.5,377.2 148.5,373.2 156.5,369.7 164.5,366.7 172.5,364.4 180.5,362.1 188.5,359.0 196.5,355.9 204.5,353.1 212.5,351.0 220.5,346.4 228.5,341.6 236.5,336.7 244.5,331.9 252.5,328.9 260.5,326.8 268.5,324.7 276.5,322.4 284.5,320.1 292.5,317.9 300.5,314.5 308.5,310.4 316.5,306.3 324.5,302.0 332.5,297.3 340.5,292.5 348.5,287.8 356.5,285.3 364.5,282.8 372.5,280.4 380.5,279.4 388.5,278.4 396.5,277.4 404.5,276.5 412.5,275.5 420.5,273.1 428.5,270.7 436.5,268.2 444.5,265.7 452.5,263.2 460.5,261.4 468.5,259.6 476.5,257.5 484.5,255.5 492.5,253.5 500.5,251.6 508.5,249.2 516.5,246.7 524.5,244.7 532.5,243.5 540.5,243.5 548.5,243.5 556.5,243.5 564.5,243.9 572.5,244.9 580.5,245.8 588.5,247.2 596.5,248.6 604.5,250.0 612.5,251.2 620.5,252.4 628.5,253.6 636.5,254.8 644.5,256.3 652.5,258.3 660.5,260.3 668.5,263.4 676.5,266.6 684.5,269.3 692.5,269.0 700.5,268.8 708.5,268.5 716.5,268.2 724.5,268.0 732.5,267.7 740.5,267.9 748.5,268.2 756.5,268.8 764.5,270.0 772.5,271.1 780.5,272.4 788.5,273.7 796.5,274.9 804.5,276.2 812.5,277.5 820.5,278.8 828.5,281.2 836.5,283.6 844.5,286.0 852.5,288.2 860.5,289.9 868.5,291.5 876.5,293.1 884.5,294.7 892.5,296.2 900.5,297.7 908.5,299.2 916.5,301.0 924.5,304.7 932.5,308.4 940.5,311.5 948.5,314.7 956.5,317.8 964.5,320.6 972.5,322.6 980.5,324.6 988.5,326.0 996.5,327.2 1004.5,328.0 1012.5,328.0 1020.5,327.3 1028.5,325.8 1036.5,325.0 1044.5,325.0 1052.5,325.0 1060.5,325.0 1068.5,325.0 1076.5,323.7 1084.5,322.4 1092.5,321.8 1100.5,321.2 1108.5,320.6 1116.5,320.1 1124.5,320.0 1132.5,320.3 1140.5,320.7 1148.5,321.1 1156.5,321.4 1164.5,321.8 1172.5,322.6 1180.5,323.7 1188.5,325.1 1196.5,326.8 1204.5,328.6 1212.5,329.3 1220.5,329.9 1228.5,330.3 1236.5,329.9 1244.5,329.4 1252.5,328.9 1260.5,327.6 1268.5,325.8 1276.5,324.0 1284.5,322.2 1292.5,320.7 1300.5,319.2 1308.5,317.7 1316.5,316.5 1324.5,315.6 1332.5,314.8 1340.5,313.9 1348.5,313.0 1356.5,310.7 1364.5,307.8 1372.5,304.9 1380.5,301.3 1388.5,297.7 1396.5,293.6 1404.5,289.3 1412.5,285.3 1420.5,281.8 1428.5,278.3 1436.5,274.8 1444.5,271.5 1452.5,268.3 1460.5,265.1 1468.5,262.0 1476.5,258.6 1484.5,255.2 1492.5,251.7 1500.5,248.2 1508.5,245.5 1516.5,242.9 1524.5,240.2 1532.5,237.6 1540.5,234.9 1548.5,232.2 1556.5,229.6 1564.5,226.7 1572.5,223.5 1580.5,220.3 1588.5,218.4 1596.5,216.8 1604.5,215.0 1612.5,212.8 1620.5,210.5 1628.5,207.1 1636.5,203.4 1644.5,199.6 1652.5,195.8 1660.5,192.4" fill="none" stroke="#ff00ff" stroke-width="1" shape-rendering="crispEdges" />
<polyline points="4.5,372.3 12.5,373.8 20.5,375.4 28.5,376.1 36.5,373.6 44.5,371.1 52.5,368.5 60.5,365.4 68.5,362.9 76.5,361.6 84.5,362.4 92.5,365.0 100.5,366.4 108.5,367.2 116.5,367.5 124.5,367.8 132.5,367.4 140.5,366.4 148.5,363.7 156.5,359.7 164.5,354.0 172.5,347.2 180.5,339.8 188.5,332.5 196.5,324.5 204.5,315.1 212.5,306.8 220.5,295.9 228.5,283.9 236.5,273.1 244.5,263.5 252.5,254.8 260.5,249.2 268.5,243.5 276.5,239.2 284.5,235.7 292.5,231.8 300.5,225.6 308.5,219.4 316.5,214.5 324.5,210.4 332.5,206.3 340.5,203.3 348.5,200.2 356.5,197.7 364.5,195.6 372.5,196.4 380.5,198.4 388.5,202.8 396.5,209.2 404.5,217.3 412.5,225.5 420.5,226.4 428.5,225.7 436.5,225.7 444.5,226.8 452.5,226.1 460.5,227.9 468.5,230.3 476.5,233.1 484.5,236.6 492.5,240.6 500.5,244.6 508.5,249.0 516.5,253.3 524.5,258.0 532.5,262.9 540.5,267.8 548.5,271.7 556.5,275.6 564.5,279.8 572.5,284.5 580.5,289.2 588.5,293.7 596.5,298.2 604.5,302.1 612.5,304.8 620.5,307.6 628.5,309.6 636.5,311.5 644.5,313.3 652.5,314.9 660.5,316.5 668.5,318.0 676.5,317.6 684.5,317.3 692.5,316.8 700.5,312.9 708.5,309.0 716.5,304.4 724.5,299.3 732.5,294.1 740.5,286.6 748.5,279.1 756.5,272.3 764.5,266.6 772.5,260.9 780.5,258.1 788.5,255.5 796.5,254.6 804.5,254.0 812.5,253.5 820.5,253.0 828.5,257.6 836.5,262.3 844.5,267.7 852.5,274.1 860.5,280.5 868.5,286.9 876.5,292.1 884.5,296.8 892.5,301.5 900.5,307.6 908.5,314.2 916.5,321.5 924.5,333.7 932.5,344.7 940.5,355.1 948.5,362.7 956.5,369.8 964.5,376.6 972.5,382.9 980.5,389.1 988.5,393.4 996.5,395.3 1004.5,393.9 1012.5,392.0 1020.5,390.0 1028.5,387.9 1036.5,386.6 1044.5,386.0 1052.5,385.3 1060.5,383.4 1068.5,381.3 1076.5,375.6 1084.5,369.2 1092.5,360.0 1100.5,349.1 1108.5,338.6 1116.5,328.2 1124.5,322.4 1132.5,315.8 1140.5,307.1 1148.5,298.4 1156.5,291.1 1164.5,284.3 1172.5,278.2 1180.5,275.0 1188.5,272.3 1196.5,271.7 1204.5,271.0 1212.5,269.8 1220.5,268.4 1228.5,267.2 1236.5,266.0 1244.5,267.9 1252.5,269.9 1260.5,271.5 1268.5,273.1 1276.5,274.4 1284.5,275.4 1292.5,276.5 1300.5,277.4 1308.5,278.4 1316.5,279.6 1324.5,281.1 1332.5,282.5 1340.5,284.1 1348.5,285.8 1356.5,287.4 1364.5,285.8 1372.5,284.0 1380.5,282.8 1388.5,281.6 1396.5,279.8 1404.5,277.0 1412.5,273.5 1420.5,269.9 1428.5,265.6 1436.5,261.2 1444.5,256.1 1452.5,250.2 1460.5,244.2 1468.5,237.8 1476.5,231.4 1484.5,224.8 1492.5,217.9 1500.5,211.0 1508.5,202.1 1516.5,193.0 1524.5,183.8 1532.5,174.5 1540.5,165.3 1548.5,157.2 1556.5,150.0 1564.5,143.6 1572.5,139.2 1580.5,134.7 1588.5,131.6 1596.5,128.8 1604.5,126.2 1612.5,124.3 1620.5,122.4 1628.5,120.4 1636.5,118.3 1644.5,116.1 1652.5,113.4 1660.5,111.0" fill="none" stroke="#ffa500" stroke-width="1" shape-rendering="crispEdges" />
<g shape-rendering="crispEdges">
<rect x="4" y="114" width="1680" height="2" fill="#32cd32"/>
<rect x="4" y="178" width="1680" height="2" fill="#4169e1"/>
<rect x="4" y="241" width="1680" height="2" fill="#4169e1"/>
<rect x="4" y="304" width="1680" height="2" fill="#4169e1"/>
</g>
<g shape-rendering="crispEdges" fill="#c0c0c0">
<rect x="4" y="600" width="1" height="10"/>
<rect x="12" y="606" width="1" height="4"/>
<rect x="28" y="609" width="1" height="3"/>
<rect x="36" y="609" width="1" height="4"/>
<rect x="44" y="609" width="1" height="3"/>
<rect x="52" y="608" width="1" height="2"/>
<rect x="60" y="608" width="1" height="2"/>
<rect x="76" y="609" width="1" height="2"/>
<rect x="84" y="608" width="1" height="2"/>
<rect x="92" y="608" width="1" height="2"/>
<rect x="108" y="607" width="1" height="3"/>
<rect x="116" y="602" width="1" height="8"/>
<rect x="124" y="597" width="1" height="13"/>
<rect x="132" y="596" width="1" height="14"/>
<rect x="140" y="595" width="1" height="15"/>
<rect x="148" y="594" width="1" height="16"/>
<rect x="156" y="585" width="1" height="25"/>
<rect x="164" y="580" width="1" height="30"/>
<rect x="172" y="575" width="1" height="35"/>
<rect x="180" y="573" width="1" height="37"/>
<rect x="188" y="569" width="1" height="41"/>
<rect x="196" y="568" width="1" height="42"/>
<rect x="204" y="562" width="1" height="48"/>
<rect x="212" y="559" width="1" height="51"/>
<rect x="220" y="552" width="1" height="58"/>
<rect x="228" y="545" width="1" height="65"/>
<rect x="236" y="540" width="1" height="70"/>
<rect x="244" y="537" width="1" height="73"/>
<rect x="252" y="547" width="1" height="63"/>
<rect x="260" y="557" width="1" height="53"/>
<rect x="268" y="564" width="1" height="46"/>
<rect x="276" y="569" width="1" height="41"/>
<rect x="284" y="576" width="1" height="34"/>
<rect x="292" y="580" width="1" height="30"/>
<rect x="300" y="581" width="1" height="29"/>
<rect x="308" y="580" width="1" height="30"/>
<rect x="316" y="580" width="1" height="30"/>
<rect x="324" y="579" width="1" height="31"/>
<rect x="332" y="578" width="1" height="32"/>
<rect x="340" y="577" width="1" height="33"/>
<rect x="348" y="578" width="1" height="32"/>
<rect x="356" y="579" width="1" height="31"/>
<rect x="364" y="580" width="1" height="30"/>
<rect x="372" y="584" width="1" height="26"/>
<rect x="380" y="590" width="1" height="20"/>
<rect x="388" y="595" width="1" height="15"/>
<rect x="396" y="604" width="1" height="6"/>
<rect x="412" y="609" width="1" height="5"/>
<rect x="420" y="609" width="1" height="8"/>
<rect x="428" y="609" width="1" height="7"/>
<rect x="436" y="609" width="1" height="8"/>
<rect x="444" y="609" width="1" height="9"/>
<rect x="452" y="609" width="1" height="7"/>
<rect x="460" y="609" width="1" height="7"/>
<rect x="468" y="609" width="1" height="10"/>
<rect x="476" y="609" width="1" height="11"/>
<rect x="484" y="609" width="1" height="11"/>
<rect x="492" y="609" width="1" height="11"/>
<rect x="500" y="609" width="1" height="11"/>
<rect x="508" y="609" width="1" height="11"/>
<rect x="516" y="609" width="1" height="10"/>
<rect x="524" y="609" width="1" height="9"/>
<rect x="532" y="609" width="1" height="10"/>
<rect x="540" y="609" width="1" height="16"/>
<rect x="548" y="609" width="1" height="22"/>
<rect x="556" y="609" width="1" height="25"/>
<rect x="564" y="609" width="1" height="30"/>
<rect x="572" y="609" width="1" height="33"/>
<rect x="580" y="609" width="1" height="38"/>
<rect x="588" y="609" width="1" height="41"/>
<rect x="596" y="609" width="1" height="38"/>
<rect x="604" y="609" width="1" height="37"/>
<rect x="612" y="609" width="1" height="33"/>
<rect x="620" y="609" width="1" height="29"/>
<rect x="628" y="609" width="1" height="23"/>
<rect x="636" y="609" width="1" height="19"/>
<rect x="644" y="609" width="1" height="15"/>
<rect x="652" y="609" width="1" height="13"/>
<rect x="660" y="609" width="1" height="11"/>
<rect x="668" y="609" width="1" height="9"/>
<rect x="676" y="609" width="1" height="3"/>
<rect x="684" y="608" width="1" height="2"/>
<rect x="692" y="604" width="1" height="6"/>
<rect x="700" y="598" width="1" height="12"/>
<rect x="708" y="593" width="1" height="17"/>
<rect x="716" y="590" width="1" height="20"/>
<rect x="724" y="589" width="1" height="21"/>
<rect x="732" y="587" width="1" height="23"/>
<rect x="740" y="585" width="1" height="25"/>
<rect x="748" y="584" width="1" height="26"/>
<rect x="756" y="583" width="1" height="27"/>
<rect x="764" y="585" width="1" height="25"/>
<rect x="772" y="586" width="1" height="24"/>
<rect x="780" y="590" width="1" height="20"/>
<rect x="788" y="594" width="1" height="16"/>
<rect x="796" y="598" width="1" height="12"/>
<rect x="804" y="603" width="1" height="7"/>
<rect x="812" y="608" width="1" height="2"/>
<rect x="828" y="609" width="1" height="13"/>
<rect x="836" y="609" width="1" height="24"/>
<rect x="844" y="609" width="1" height="30"/>
<rect x="852" y="609" width="1" height="33"/>
<rect x="860" y="609" width="1" height="37"/>
<rect x="868" y="609" width="1" height="35"/>
<rect x="876" y="609" width="1" height="33"/>
<rect x="884" y="609" width="1" height="29"/>
<rect x="892" y="609" width="1" height="27"/>
<rect x="900" y="609" width="1" height="27"/>
<rect x="908" y="609" width="1" height="25"/>
<rect x="916" y="609" width="1" height="27"/>
<rect x="924" y="609" width="1" height="38"/>
<rect x="932" y="609" width="1" height="45"/>
<rect x="940" y="609" width="1" height="51"/>
<rect x="948" y="609" width="1" height="51"/>
<rect x="956" y="609" width="1" height="48"/>
<rect x="964" y="609" width="1" height="47"/>
<rect x="972" y="609" width="1" height="45"/>
<rect x="980" y="609" width="1" height="41"/>
<rect x="988" y="609" width="1" height="37"/>
<rect x="996" y="609" width="1" height="35"/>
<rect x="1004" y="609" width="1" height="30"/>
<rect x="1012" y="609" width="1" height="23"/>
<rect x="1020" y="609" width="1" height="13"/>
<rect x="1028" y="609" width="1" height="7"/>
<rect x="1036" y="609" width="1" height="3"/>
<rect x="1044" y="608" width="1" height="2"/>
<rect x="1052" y="604" width="1" height="6"/>
<rect x="1060" y="598" width="1" height="12"/>
<rect x="1068" y="596" width="1" height="14"/>
<rect x="1076" y="585" width="1" height="25"/>
<rect x="1084" y="579" width="1" height="31"/>
<rect x="1092" y="576" width="1" height="34"/>
<rect x="1100" y="572" width="1" height="38"/>
<rect x="1108" y="573" width="1" height="37"/>
<rect x="1116" y="571" width="1" height="39"/>
<rect x="1124" y="573" width="1" height="37"/>
<rect x="1132" y="575" width="1" height="35"/>
<rect x="1140" y="578" width="1" height="32"/>
<rect x="1148" y="577" width="1" height="33"/>
<rect x="1156" y="576" width="1" height="34"/>
<rect x="1164" y="576" width="1" height="34"/>
<rect x="1172" y="577" width="1" height="33"/>
<rect x="1180" y="579" width="1" height="31"/>
<rect x="1188" y="581" width="1" height="29"/>
<rect x="1196" y="587" width="1" height="23"/>
<rect x="1204" y="596" width="1" height="14"/>
<rect x="1212" y="599" width="1" height="11"/>
<rect x="1220" y="600" width="1" height="10"/>
<rect x="1228" y="601" width="1" height="9"/>
<rect x="1236" y="600" width="1" height="10"/>
<rect x="1244" y="600" width="1" height="10"/>
<rect x="1252" y="600" width="1" height="10"/>
<rect x="1260" y="601" width="1" height="9"/>
<rect x="1268" y="602" width="1" height="8"/>
<rect x="1276" y="602" width="1" height="8"/>
<rect x="1284" y="603" width="1" height="7"/>
<rect x="1292" y="604" width="1" height="6"/>
<rect x="1300" y="608" width="1" height="2"/>
<rect x="1308" y="608" width="1" height="2"/>
<rect x="1316" y="607" width="1" height="3"/>
<rect x="1324" y="606" width="1" height="4"/>
<rect x="1332" y="606" width="1" height="4"/>
<rect x="1340" y="606" width="1" height="4"/>
<rect x="1348" y="608" width="1" height="2"/>
<rect x="1388" y="606" width="1" height="4"/>
<rect x="1396" y="603" width="1" height="7"/>
<rect x="1404" y="597" width="1" height="13"/>
<rect x="1412" y="594" width="1" height="16"/>
<rect x="1420" y="587" width="1" height="23"/>
<rect x="1428" y="581" width="1" height="29"/>
<rect x="1436" y="580" width="1" height="30"/>
<rect x="1444" y="578" width="1" height="32"/>
<rect x="1452" y="573" width="1" height="37"/>
<rect x="1460" y="570" width="1" height="40"/>
<rect x="1468" y="568" width="1" height="42"/>
<rect x="1476" y="569" width="1" height="41"/>
<rect x="1484" y="569" width="1" height="41"/>
<rect x="1492" y="568" width="1" height="42"/>
<rect x="1500" y="564" width="1" height="46"/>
<rect x="1508" y="560" width="1" height="50"/>
<rect x="1516" y="558" width="1" height="52"/>
<rect x="1524" y="557" width="1" height="53"/>
<rect x="1532" y="556" width="1" height="54"/>
<rect x="1540" y="553" width="1" height="57"/>
<rect x="1548" y="556" width="1" height="54"/>
<rect x="1556" y="559" width="1" height="51"/>
<rect x="1564" y="564" width="1" height="46"/>
<rect x="1572" y="567" width="1" height="43"/>
<rect x="1580" y="569" width="1" height="41"/>
<rect x="1588" y="574" width="1" height="36"/>
<rect x="1596" y="578" width="1" height="32"/>
<rect x="1604" y="580" width="1" height="30"/>
<rect x="1612" y="581" width="1" height="29"/>
<rect x="1620" y="584" width="1" height="26"/>
<rect x="1628" y="586" width="1" height="24"/>
<rect x="1636" y="588" width="1" height="22"/>
<rect x="1644" y="588" width="1" height="22"/>
<rect x="1652" y="588" width="1" height="22"/>
<rect x="1660" y="586" width="1" height="24"/>
</g>
<polyline points="4.5,593.8 12.5,595.3 20.5,597.3 28.5,599.4 36.5,602.2 44.5,605.1 52.5,607.0 60.5,608.9 68.5,609.9 76.5,610.9 84.5,611.6 92.5,611.8 100.5,611.7 108.5,610.8 116.5,609.7 124.5,608.4 132.5,606.0 140.5,604.7 148.5,603.9 156.5,600.0 164.5,596.0 172.5,591.8 180.5,588.4 188.5,585.0 196.5,581.7 204.5,577.9 212.5,573.9 220.5,569.4 228.5,565.0 236.5,560.6 244.5,556.1 252.5,552.8 260.5,551.8 268.5,550.8 276.5,551.9 284.5,553.5 292.5,556.3 300.5,560.7 308.5,565.7 316.5,570.1 324.5,573.6 332.5,576.2 340.5,578.0 348.5,578.7 356.5,578.8 364.5,578.8 372.5,578.8 380.5,579.9 388.5,581.7 396.5,585.3 404.5,589.1 412.5,593.3 420.5,597.8 428.5,602.1 436.5,606.3 444.5,609.4 452.5,612.6 460.5,615.0 468.5,617.0 476.5,618.1 484.5,618.9 492.5,619.6 500.5,620.3 508.5,620.3 516.5,620.3 524.5,620.7 532.5,621.3 540.5,622.2 548.5,623.0 556.5,623.7 564.5,625.9 572.5,628.4 580.5,631.0 588.5,634.4 596.5,638.1 604.5,640.5 612.5,642.2 620.5,643.4 628.5,643.1 636.5,641.9 644.5,640.4 652.5,637.5 660.5,633.9 668.5,631.0 676.5,627.5 684.5,623.8 692.5,620.2 700.5,616.3 708.5,612.3 716.5,608.4 724.5,604.4 732.5,600.1 740.5,596.6 748.5,593.4 756.5,590.4 764.5,588.2 772.5,586.7 780.5,586.3 788.5,586.9 796.5,587.8 804.5,590.2 812.5,592.2 820.5,593.8 828.5,598.9 836.5,604.6 844.5,611.0 852.5,617.1 860.5,623.0 868.5,628.3 876.5,632.0 884.5,636.0 892.5,638.9 900.5,640.8 908.5,641.0 916.5,641.1 924.5,641.3 932.5,642.6 940.5,644.5 948.5,646.5 956.5,648.0 964.5,649.5 972.5,652.1 980.5,653.8 988.5,654.5 996.5,654.2 1004.5,652.5 1012.5,649.6 1020.5,645.8 1028.5,641.3 1036.5,636.2 1044.5,630.8 1052.5,625.2 1060.5,619.9 1068.5,614.4 1076.5,608.3 1084.5,602.7 1092.5,597.3 1100.5,592.2 1108.5,588.0 1116.5,584.2 1124.5,579.7 1132.5,577.6 1140.5,576.3 1148.5,575.7 1156.5,575.3 1164.5,575.3 1172.5,575.3 1180.5,575.6 1188.5,576.7 1196.5,577.9 1204.5,580.1 1212.5,582.4 1220.5,585.3 1228.5,588.3 1236.5,591.1 1244.5,594.0 1252.5,596.4 1260.5,598.7 1268.5,599.7 1276.5,600.6 1284.5,600.9 1292.5,601.1 1300.5,601.5 1308.5,602.9 1316.5,604.0 1324.5,604.7 1332.5,605.4 1340.5,606.1 1348.5,606.6 1356.5,607.2 1364.5,607.5 1372.5,607.6 1380.5,607.7 1388.5,607.6 1396.5,606.7 1404.5,605.7 1412.5,604.7 1420.5,603.2 1428.5,599.7 1436.5,596.1 1444.5,592.4 1452.5,588.5 1460.5,584.7 1468.5,581.0 1476.5,577.8 1484.5,575.5 1492.5,573.6 1500.5,571.6 1508.5,569.2 1516.5,566.3 1524.5,564.7 1532.5,563.1 1540.5,561.5 1548.5,559.9 1556.5,558.6 1564.5,557.8 1572.5,558.5 1580.5,559.8 1588.5,561.7 1596.5,564.2 1604.5,566.9 1612.5,569.8 1620.5,572.9 1628.5,575.9 1636.5,578.1 1644.5,580.4 1652.5,582.3 1657.5,583.0" fill="none" stroke="#ff0000" stroke-width="1" stroke-dasharray="3 3" shape-rendering="crispEdges"/>
<g shape-rendering="crispEdges">
<line x1="5" y1="700.5" x2="1684" y2="700.5" stroke="#c0c0c0" stroke-width="1" stroke-dasharray="3 3"/>
<line x1="5" y1="740.5" x2="1684" y2="740.5" stroke="#c0c0c0" stroke-width="1" stroke-dasharray="3 3"/>
</g>
<polyline points="4.5,724.2 12.5,728.5 20.5,728.5 28.5,727.5 36.5,724.2 44.5,720.5 52.5,720.5 60.5,717.5 68.5,722.5 76.5,722.5 84.5,722.5 92.5,723.7 100.5,715.7 108.5,712.5 116.5,706.5 124.5,706.5 132.5,712.5 140.5,711.2 148.5,710.5 156.5,698.2 164.5,699.5 172.5,699.2 180.5,700.5 188.5,697.0 196.5,704.5 204.5,696.5 212.5,701.5 220.5,695.7 228.5,694.5 236.5,694.5 244.5,693.2 252.5,718.7 260.5,721.5 268.5,719.2 276.5,717.5 284.5,721.7 292.5,718.7 300.5,715.5 308.5,712.5 316.5,712.2 324.5,710.5 332.5,710.5 340.5,709.5 348.5,713.7 356.5,711.2 364.5,713.7 372.5,719.5 380.5,724.2 388.5,724.5 396.5,732.5 404.5,731.5 412.5,730.5 420.5,729.5 428.5,720.5 436.5,725.0 444.5,724.2 452.5,720.0 460.5,723.7 468.5,726.0 476.5,727.5 484.5,726.2 492.5,725.2 500.5,726.2 508.5,728.5 516.5,718.2 524.5,723.0 532.5,726.7 540.5,736.2 548.5,737.5 556.5,736.2 564.5,739.5 572.5,739.5 580.5,743.2 588.5,743.2 596.5,728.2 604.5,730.5 612.5,726.5 620.5,722.5 628.5,720.5 636.5,717.5 644.5,721.5 652.5,719.2 660.5,721.5 668.5,721.5 676.5,712.0 684.5,708.2 692.5,712.2 700.5,706.5 708.5,707.5 716.5,706.2 724.5,713.5 732.5,708.5 740.5,709.5 748.5,708.5 756.5,710.2 764.5,715.5 772.5,711.2 780.5,722.2 788.5,723.5 796.5,725.2 804.5,726.5 812.5,730.5 820.5,728.5 828.5,742.2 836.5,743.5 844.5,740.5 852.5,737.5 860.5,737.2 868.5,731.5 876.5,725.2 884.5,723.2 892.5,726.2 900.5,729.5 908.5,728.2 916.5,731.2 924.5,745.5 932.5,740.2 940.5,741.5 948.5,734.2 956.5,729.2 964.5,731.5 972.5,731.5 980.5,725.2 988.5,726.2 996.5,727.5 1004.5,721.5 1012.5,717.2 1020.5,712.2 1028.5,712.2 1036.5,714.5 1044.5,713.2 1052.5,711.2 1060.5,707.2 1068.5,713.2 1076.5,702.2 1084.5,705.2 1092.5,708.5 1100.5,706.2 1108.5,713.2 1116.5,709.5 1124.5,714.2 1132.5,715.5 1140.5,716.5 1148.5,711.5 1156.5,710.2 1164.5,712.2 1172.5,713.5 1180.5,713.5 1188.5,716.5 1196.5,723.2 1204.5,729.2 1212.5,722.2 1220.5,718.2 1228.5,720.5 1236.5,717.5 1244.5,718.5 1252.5,717.5 1260.5,720.5 1268.5,719.2 1276.5,719.2 1284.5,719.2 1292.5,721.2 1300.5,728.5 1308.5,720.2 1316.5,716.5 1324.5,718.2 1332.5,719.5 1340.5,718.2 1348.5,724.5 1356.5,723.2 1364.5,721.5 1372.5,722.2 1380.5,719.2 1388.5,713.5 1396.5,711.2 1404.5,704.2 1412.5,706.2 1420.5,700.5 1428.5,699.2 1436.5,707.5 1444.5,706.2 1452.5,700.5 1460.5,703.5 1468.5,703.5 1476.5,708.5 1484.5,705.5 1492.5,704.2 1500.5,699.2 1508.5,697.2 1516.5,699.2 1524.5,700.5 1532.5,699.2 1540.5,694.5 1548.5,708.2 1556.5,710.2 1564.5,713.5 1572.5,712.2 1580.5,710.2 1588.5,717.5 1596.5,716.2 1604.5,714.2 1612.5,712.2 1620.5,718.2 1628.5,715.5 1636.5,716.5 1644.5,712.2 1652.5,711.2 1660.5,707.2" fill="none" stroke="#1e90ff" stroke-width="1" shape-rendering="crispEdges"/>
<text class="ax" x="1690" y="65">1777.90</text>
<text class="ax" x="1690" y="98">1769.90</text>
<text class="ax" x="1690" y="131">1762.10</text>
<text class="ax" x="1690" y="164">1754.30</text>
<text class="ax" x="1690" y="197">1746.50</text>
<text class="ax" x="1690" y="230">1738.70</text>
<text class="ax" x="1690" y="263">1730.90</text>
<text class="ax" x="1690" y="296">1723.10</text>
<text class="ax" x="1690" y="329">1715.30</text>
<text class="ax" x="1690" y="362">1707.50</text>
<text class="ax" x="1690" y="395">1699.70</text>
<text class="ax" x="1690" y="428">1691.90</text>
<text class="ax" x="1690" y="461">1684.10</text>
<text class="ax" x="1690" y="494">1676.30</text>
<text class="ax" x="1690" y="527">1668.50</text>
<rect x="1686" y="74" width="41" height="11" fill="#000000" shape-rendering="crispEdges"/>
<text class="ax" x="1690" y="83" style="fill:#fff;stroke:#fff">1773.58</text>
<rect x="1686" y="109" width="41" height="11" fill="#32cd32" shape-rendering="crispEdges"/>
<text class="ax" x="1690" y="118" style="fill:#fff;stroke:#fff">1765.00</text>
<rect x="1686" y="173" width="41" height="11" fill="#4169e1" shape-rendering="crispEdges"/>
<text class="ax" x="1690" y="182" style="fill:#fff;stroke:#fff">1750.00</text>
<rect x="1686" y="236" width="41" height="11" fill="#4169e1" shape-rendering="crispEdges"/>
<text class="ax" x="1690" y="245" style="fill:#fff;stroke:#fff">1735.00</text>
<rect x="1686" y="299" width="41" height="11" fill="#4169e1" shape-rendering="crispEdges"/>
<text class="ax" x="1690" y="308" style="fill:#fff;stroke:#fff">1720.00</text>
<text class="ax" x="1687.6" y="539">15.105</text>
<text class="ax" x="1687.5" y="613">0.00</text>
<text class="ax" x="1687.5" y="664">-10.963</text>
<text class="ax" x="1687.5" y="680">100</text>
<text class="ax" x="1687.5" y="704">70</text>
<text class="ax" x="1687.5" y="744">30</text>
<text class="ax" x="1687.5" y="767.8">0</text>
<text class="ax" x="2.4" y="784" textLength="54.5" lengthAdjust="spacingAndGlyphs">11 May 2020</text>
<text class="ax" x="66.4" y="784" textLength="58" lengthAdjust="spacingAndGlyphs">12 May 16:00</text>
<text class="ax" x="130.4" y="784" textLength="58" lengthAdjust="spacingAndGlyphs">14 May 00:00</text>
<text class="ax" x="194.4" y="784" textLength="58" lengthAdjust="spacingAndGlyphs">15 May 08:00</text>
<text class="ax" x="258.4" y="784" textLength="58" lengthAdjust="spacingAndGlyphs">18 May 16:00</text>
<text class="ax" x="322.4" y="784" textLength="58" lengthAdjust="spacingAndGlyphs">20 May 00:00</text>
<text class="ax" x="386.4" y="784" textLength="58" lengthAdjust="spacingAndGlyphs">21 May 08:00</text>
<text class="ax" x="450.4" y="784" textLength="58" lengthAdjust="spacingAndGlyphs">22 May 16:00</text>
<text class="ax" x="514.4" y="784" textLength="58" lengthAdjust="spacingAndGlyphs">26 May 00:00</text>
<text class="ax" x="578.4" y="784" textLength="58" lengthAdjust="spacingAndGlyphs">27 May 08:00</text>
<text class="ax" x="642.4" y="784" textLength="58" lengthAdjust="spacingAndGlyphs">28 May 16:00</text>
<text class="ax" x="706.4" y="784" textLength="47.5" lengthAdjust="spacingAndGlyphs">1 Jun 00:00</text>
<text class="ax" x="770.4" y="784" textLength="47.5" lengthAdjust="spacingAndGlyphs">2 Jun 08:00</text>
<text class="ax" x="834.4" y="784" textLength="47.5" lengthAdjust="spacingAndGlyphs">3 Jun 16:00</text>
<text class="ax" x="898.4" y="784" textLength="47.5" lengthAdjust="spacingAndGlyphs">5 Jun 00:00</text>
<text class="ax" x="962.4" y="784" textLength="47.5" lengthAdjust="spacingAndGlyphs">8 Jun 08:00</text>
<text class="ax" x="1026.4" y="784" textLength="47.5" lengthAdjust="spacingAndGlyphs">9 Jun 16:00</text>
<text class="ax" x="1090.4" y="784" textLength="52.5" lengthAdjust="spacingAndGlyphs">11 Jun 00:00</text>
<text class="ax" x="1154.4" y="784" textLength="52.5" lengthAdjust="spacingAndGlyphs">12 Jun 08:00</text>
<text class="ax" x="1218.4" y="784" textLength="52.5" lengthAdjust="spacingAndGlyphs">15 Jun 16:00</text>
<text class="ax" x="1282.4" y="784" textLength="52.5" lengthAdjust="spacingAndGlyphs">17 Jun 00:00</text>
<text class="ax" x="1346.4" y="784" textLength="52.5" lengthAdjust="spacingAndGlyphs">18 Jun 08:00</text>
<text class="ax" x="1410.4" y="784" textLength="52.5" lengthAdjust="spacingAndGlyphs">19 Jun 16:00</text>
<text class="ax" x="1474.4" y="784" textLength="52.5" lengthAdjust="spacingAndGlyphs">23 Jun 00:00</text>
<text class="ax" x="1538.4" y="784" textLength="52.5" lengthAdjust="spacingAndGlyphs">24 Jun 08:00</text>
<text class="ax" x="1602.4" y="784" textLength="52.5" lengthAdjust="spacingAndGlyphs">25 Jun 16:00</text>
<path d="M7 37 h7 l-3.500 4 Z" fill="#000"/>
<text class="ax" x="18.500" y="42" textLength="57.5" lengthAdjust="spacingAndGlyphs">XAUUSD-,H4</text>
<text class="ax" x="82" y="42" textLength="140.5" lengthAdjust="spacingAndGlyphs">1773.79 1774.72 1772.97 1773.58</text>
<text class="ax" x="8.300" y="541" textLength="117.5" lengthAdjust="spacingAndGlyphs">MACD(12,26,9) 4.577 4.852</text>
<text class="ax" x="8.300" y="682" textLength="67.5" lengthAdjust="spacingAndGlyphs">RSI(14) 64.1398</text>
<text class="cn" x="1285.1" y="434">多空转折点</text>
<text class="cd" x="1465.8" y="433" textLength="84.7" lengthAdjust="spacingAndGlyphs">1765</text>
</svg>
</body></html>
